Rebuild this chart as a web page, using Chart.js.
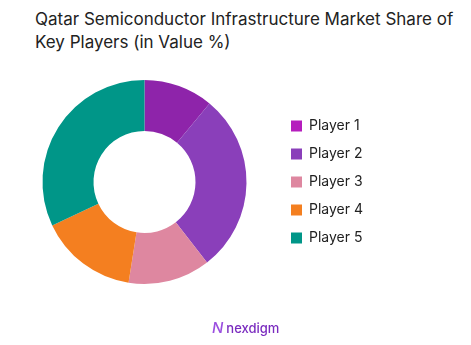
<!DOCTYPE html>
<html>
<head>
<meta charset="utf-8">
<script src="https://cdn.jsdelivr.net/npm/chart.js@4.4.0/dist/chart.umd.min.js"></script>
<style>
  body { margin: 0; background: #fff; width: 471px; height: 345px; position: relative; overflow: hidden; font-family: Inter, "Open Sans", sans-serif; }
  #titulo { position: absolute; left: 35px; top: 8px; font-size: 17px; line-height: 23px; color: #222; }
  #wrap { position: absolute; left: 0; top: 0; width: 471px; height: 345px; }
  #logo { position: absolute; left: 212px; top: 318px; font-size: 13px; color: #7a2bbf; font-weight: 500; }
  #logo span { font-size: 15px; font-style: italic; color: #9b4fe0; margin-right: 3px; }
</style>
</head>
<body>
<div id="titulo">Qatar Semiconductor Infrastructure Market Share of<br>Key Players (in Value %)</div>
<div id="wrap"><canvas id="graficoDona" width="471" height="345"></canvas></div>
<div id="logo"><span>N</span>nexdigm</div>
<script>
// datos
var players = ["Player 1", "Player 2", "Player 3", "Player 4", "Player 5"];
var shares = [11, 28.5, 13, 15.5, 32];
var sliceColors = ["#8E24AA", "#8A3FBA", "#DE87A0", "#F47F20", "#009688"];
var legendColors = ["#B51DBD", "#8A3FBA", "#DE87A0", "#F47F20", "#009688"];

var ctx = document.getElementById("graficoDona");
var dona = new Chart(ctx, {
	type: "doughnut",
	data: {
		labels: players,
		datasets: [{
			data: shares,
			backgroundColor: sliceColors,
			borderWidth: 0
		}]
	},
	options: {
		responsive: false,
		animation: false,
		cutout: "50%",
		layout: { padding: { top: 80, bottom: 61, left: 12, right: 98 } },
		plugins: {
			title: { display: false },
			tooltip: { enabled: false },
			legend: {
				position: "right",
				labels: {
					boxWidth: 11,
					boxHeight: 11,
					padding: 14,
					color: "#222",
					font: { family: "Inter", size: 14 },
					generateLabels: function (chart) {
						return players.map(function (p, i) {
							return { text: p, fillStyle: legendColors[i], strokeStyle: legendColors[i], lineWidth: 0, index: i, fontColor: "#222" };
						});
					}
				}
			}
		}
	}
});
</script>
</body>
</html>
